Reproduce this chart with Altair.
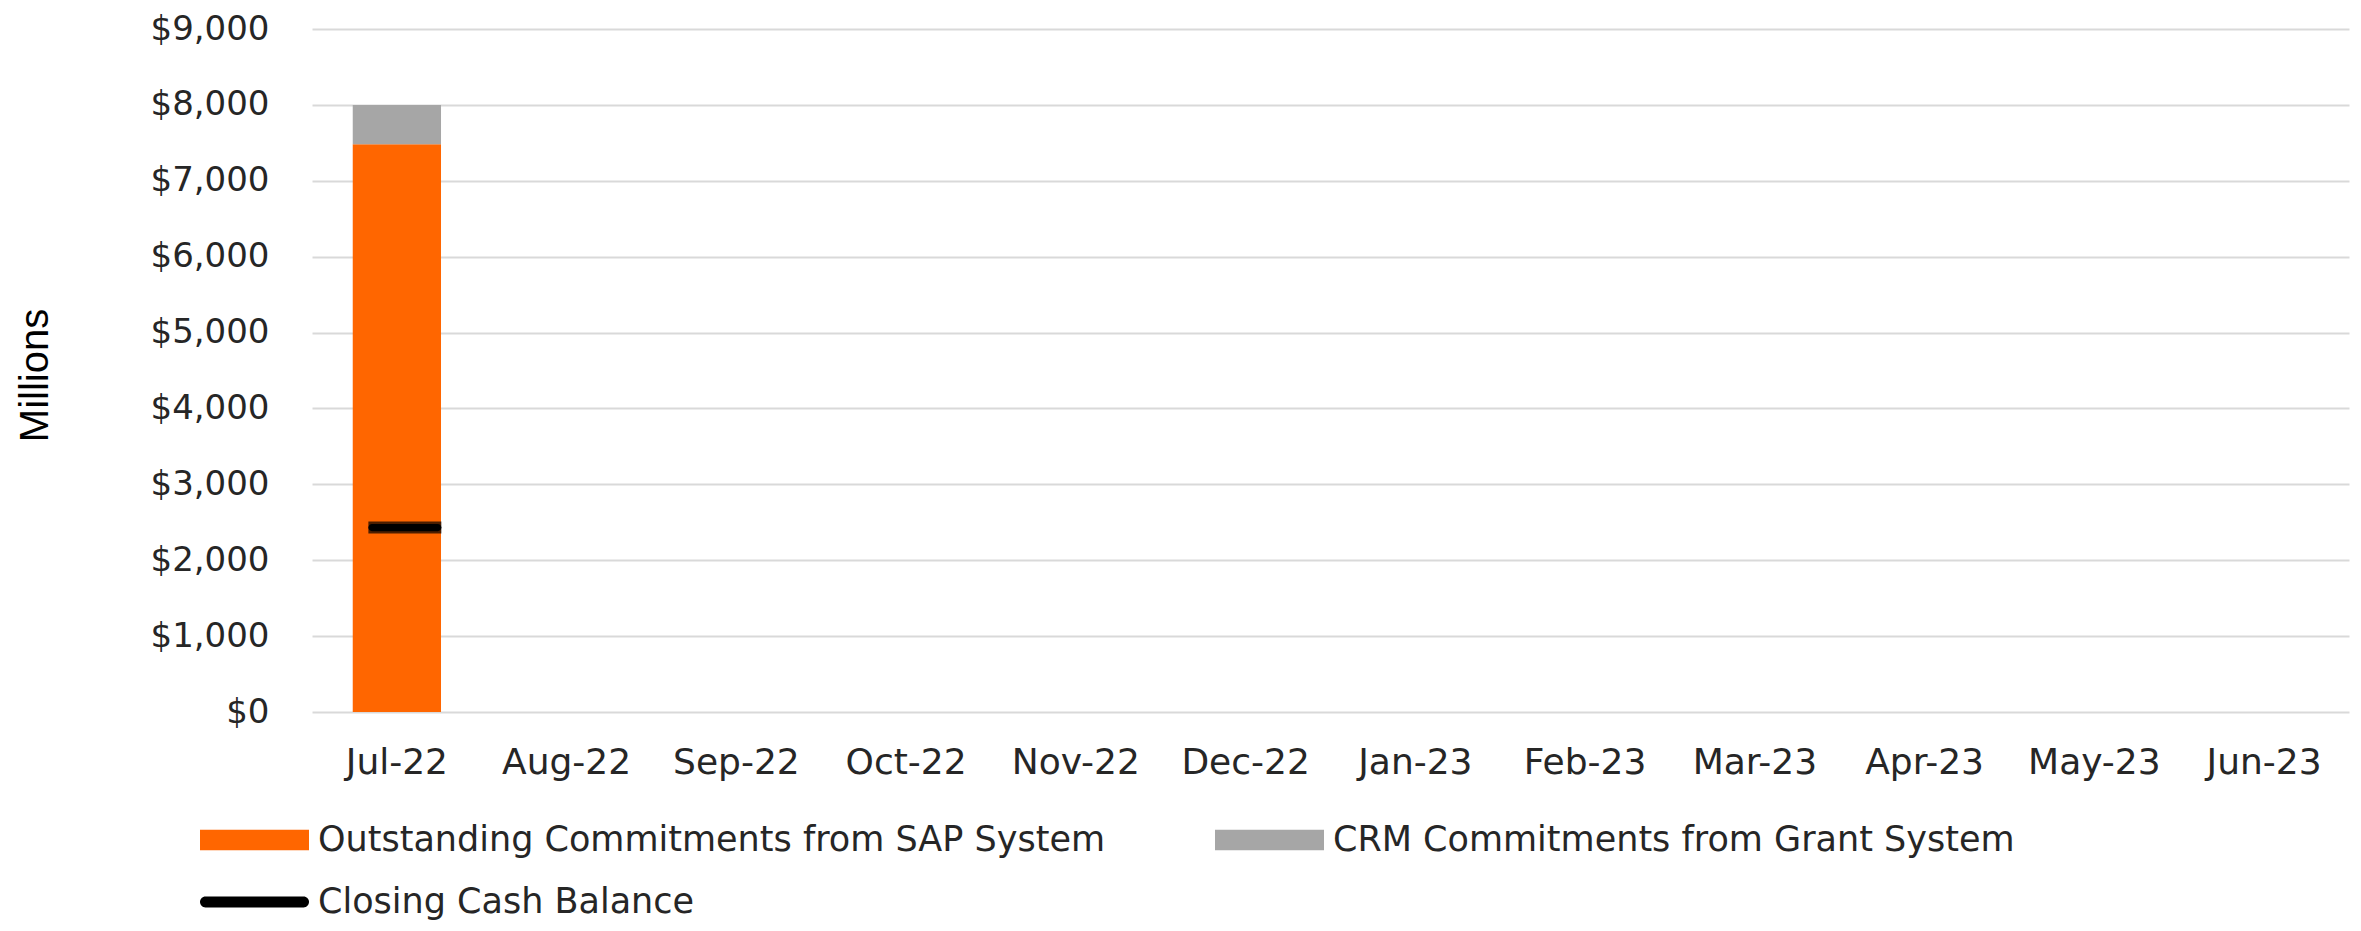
import altair as alt
import pandas as pd

# ---- data ----
months = ["Jul-22", "Aug-22", "Sep-22", "Oct-22", "Nov-22", "Dec-22",
          "Jan-23", "Feb-23", "Mar-23", "Apr-23", "May-23", "Jun-23"]
series_names = ["Outstanding Commitments from SAP System",
                "CRM Commitments from Grant System",
                "Closing Cash Balance"]
data_months = ["Jul-22"]
sap_values = [7480]
crm_values = [520]
cash_values = [2430]
series_colors = ["#FF6600", "#A6A6A6", "#000000"]
y_ticks = [0, 1000, 2000, 3000, 4000, 5000, 6000, 7000, 8000, 9000]

rows = []
for m, v in zip(data_months, sap_values):
    rows.append({"month": m, "series": series_names[0], "value": v, "ord": 0})
for m, v in zip(data_months, crm_values):
    rows.append({"month": m, "series": series_names[1], "value": v, "ord": 1})
for m, v in zip(data_months, cash_values):
    rows.append({"month": m, "series": series_names[2], "value": v, "ord": 2})
df = pd.DataFrame(rows)

rect_path = "M-1,-0.19H1V0.19H-1Z"
line_path = "M-0.9,-0.1H0.9A0.1,0.1 0 0 1 0.9,0.1H-0.9A0.1,0.1 0 0 1 -0.9,-0.1Z"

x_scale = alt.Scale(domain=months, paddingInner=0.48, paddingOuter=0.24)
y_scale = alt.Scale(domain=[0, 9000], nice=False)
color_scale = alt.Scale(domain=series_names, range=series_colors)
shape_scale = alt.Scale(domain=series_names, range=[rect_path, rect_path, line_path])

x_axis = alt.Axis(title=None, labelAngle=0, labelFont="DejaVu Sans", labelFontSize=36,
                  labelColor="#262626", labelPadding=33, ticks=False, domain=False,
                  grid=False)
y_axis = alt.Axis(values=y_ticks, format="$,.0f", title="Millions",
                  titleFont="Liberation Sans", titleFontSize=40, titleFontWeight="normal",
                  titleColor="#000000", titleX=-277, titleY=346, titleAlign="center",
                  titleBaseline="middle", labelFont="DejaVu Sans", labelFontSize=34,
                  labelColor="#262626", labelPadding=43, ticks=False, domain=False,
                  grid=True, gridColor="#D9D9D9", gridWidth=2)

base = alt.Chart(df)
x_enc = alt.X("month:N", scale=x_scale, axis=x_axis)

bars = base.transform_filter(
    alt.datum.ord < 2
).mark_bar().encode(
    x=x_enc,
    y=alt.Y("value:Q", stack="zero", scale=y_scale, axis=y_axis),
    color=alt.Color("series:N", scale=color_scale, legend=alt.Legend(title=None)),
    order=alt.Order("ord:Q", sort="ascending"),
)

cash_tick = base.transform_filter(
    alt.datum.ord == 2
).mark_tick(thickness=12, size=73, xOffset=8, color="#000000").encode(
    x=x_enc,
    y=alt.Y("value:Q", scale=y_scale, axis=y_axis),
)

cash_point = base.transform_filter(
    alt.datum.ord == 2
).mark_point(filled=True, xOffset=8, size=5329, opacity=1).encode(
    x=x_enc,
    y=alt.Y("value:Q", scale=y_scale, axis=y_axis),
    color=alt.Color("series:N", scale=color_scale, legend=alt.Legend(title=None)),
    shape=alt.Shape("series:N", scale=shape_scale, legend=alt.Legend(title=None)),
)

chart = alt.layer(bars, cash_tick, cash_point).properties(
    width=2037,
    height=683,
    autosize="none",
    padding={"left": 304, "top": 21, "right": 4, "bottom": 211},
).configure_view(
    stroke=None
).configure_legend(
    orient="none",
    direction="horizontal",
    legendX=-112,
    legendY=789,
    columns=2,
    columnPadding=109,
    rowPadding=18,
    clipHeight=44,
    symbolSize=11881,
    symbolStrokeWidth=0,
    symbolOffset=0,
    labelFont="DejaVu Sans",
    labelFontSize=35,
    labelColor="#262626",
    labelOffset=9,
    labelLimit=0,
    padding=0,
)

chart.save("out.html", embed_options={"renderer": "svg", "actions": False})
